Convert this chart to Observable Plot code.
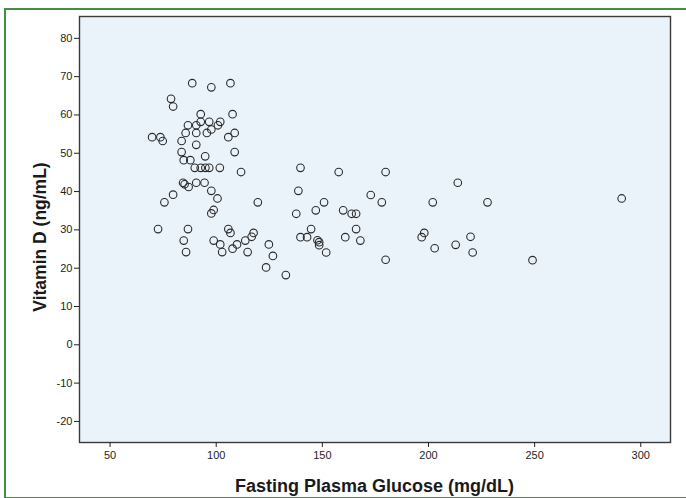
<!DOCTYPE html>
<html>
<head>
<meta charset="utf-8">
<script src="https://cdn.jsdelivr.net/npm/d3@7"></script>
<script src="https://cdn.jsdelivr.net/npm/@observablehq/plot@0.6"></script>
<style>
  html, body { margin: 0; padding: 0; background: #fff; overflow: hidden; }
  #wrap { position: relative; width: 686px; height: 498px; }
  #border { position: absolute; left: 4px; top: 8px; width: 700px; height: 487px;
            border: 2px solid #3f8f45; pointer-events: none; z-index: 2; }
  #chart { position: absolute; left: 0; top: 0; }
</style>
</head>
<body>
<div id="wrap"><div id="chart"></div><div id="border"></div></div>
<script>
// Fasting plasma glucose (mg/dL)
const glucose = [
  88.7, 97.7, 106.7, 78.7, 79.7, 92.7, 107.7, 86.7, 90.6, 92.7, 96.7, 101.9, 100.8, 97.7, 95.6, 90.6, 85.6, 108.7, 105.7, 69.8, 73.7, 74.8, 83.7, 90.6, 83.7, 108.7, 94.8, 84.7, 87.8, 89.9, 92.7, 94.9, 96.7, 101.7, 111.7,
  84.4, 85.1, 87.0, 90.6, 94.5, 97.7, 100.6, 79.7, 75.6, 119.6, 98.8, 97.7, 72.6, 86.7, 105.7, 106.7, 117.6, 116.7, 84.7, 98.8, 113.7, 101.9, 109.8, 107.7, 85.8, 102.8, 114.8, 124.8, 126.7, 123.5, 132.8,
  139.7, 157.7, 179.8, 138.7, 172.8, 150.8, 178.0, 202.0, 146.9, 159.8, 137.7, 163.8, 165.9, 144.7, 165.9, 139.7, 142.8, 160.8, 198.0, 196.8, 147.7, 148.5, 148.5, 167.9, 151.8, 179.8, 202.9, 213.8, 227.8, 291.0, 219.8, 212.8, 220.8, 249.0
];
// Vitamin D (ng/mL)
const vitaminD = [
  68.3, 67.2, 68.3, 64.2, 62.2, 60.2, 60.2, 57.3, 57.3, 58.2, 58.2, 58.2, 57.3, 56.2, 55.3, 55.3, 55.3, 55.3, 54.2, 54.2, 54.2, 53.2, 53.2, 52.2, 50.3, 50.3, 49.2, 48.2, 48.2, 46.2, 46.2, 46.2, 46.2, 46.2, 45.1,
  42.3, 41.9, 41.2, 42.3, 42.3, 40.2, 38.2, 39.2, 37.2, 37.2, 35.2, 34.3, 30.2, 30.2, 30.2, 29.2, 29.2, 28.2, 27.2, 27.2, 27.2, 26.2, 26.2, 25.1, 24.2, 24.2, 24.2, 26.2, 23.2, 20.2, 18.2,
  46.2, 45.1, 45.1, 40.2, 39.1, 37.2, 37.2, 37.2, 35.1, 35.1, 34.2, 34.2, 34.2, 30.2, 30.2, 28.1, 28.1, 28.1, 29.2, 28.1, 27.3, 26.8, 26.0, 27.2, 24.1, 22.2, 25.2, 42.3, 37.2, 38.2, 28.2, 26.1, 24.1, 22.1
];
const xTicks = [50, 100, 150, 200, 250, 300];
const yTicks = [-20, -10, 0, 10, 20, 30, 40, 50, 60, 70, 80];
const xTitle = "Fasting Plasma Glucose (mg/dL)";
const yTitle = "Vitamin D (ng/mL)";

const data = glucose.map((g, i) => ({g, v: vitaminD[i]}));

const W = 686, H = 498;
const mL = 79, mR = 16, mT = 16, mB = 56;
const fmt = d => String(d);

const chart = Plot.plot({
  width: W, height: H,
  marginLeft: mL, marginRight: mR, marginTop: mT, marginBottom: mB,
  style: {background: "transparent", fontFamily: "'Liberation Sans', Arial, sans-serif", fontSize: "11px", color: "#1e1e1e"},
  x: {domain: [35.6, 314], label: null},
  y: {domain: [-25.5, 85.7], label: null},
  marks: [
    Plot.frame({fill: "#ebf3fa", stroke: "none"}),
    Plot.dot(data, {x: "g", y: "v", r: 3.8, stroke: "#2b2b2b", strokeWidth: 1.1, fill: "none"}),
    Plot.frame({stroke: "#3a3a3a", strokeWidth: 1.4}),
    Plot.axisX({ticks: xTicks, tickSize: 5, tickPadding: 4, label: null, stroke: "#222", tickFormat: fmt}),
    Plot.axisY({ticks: yTicks, tickSize: 5, tickPadding: 2, label: null, stroke: "#222", tickFormat: fmt})
  ]
});
document.getElementById("chart").appendChild(chart);

const svg = d3.select(chart);
svg.append("text")
  .attr("x", (mL + (W - mR)) / 2)
  .attr("y", 492)
  .attr("text-anchor", "middle")
  .attr("font-family", "'Liberation Sans', Arial, sans-serif")
  .attr("font-weight", "bold")
  .attr("font-size", 18)
  .attr("fill", "#1a1a1a")
  .text(xTitle);
svg.append("text")
  .attr("transform", `translate(46,${(mT + (H - mB)) / 2 + 8}) rotate(-90)`)
  .attr("text-anchor", "middle")
  .attr("font-family", "'Liberation Sans', Arial, sans-serif")
  .attr("font-weight", "bold")
  .attr("font-size", 17.5)
  .attr("fill", "#1a1a1a")
  .text(yTitle);
</script>
</body>
</html>
